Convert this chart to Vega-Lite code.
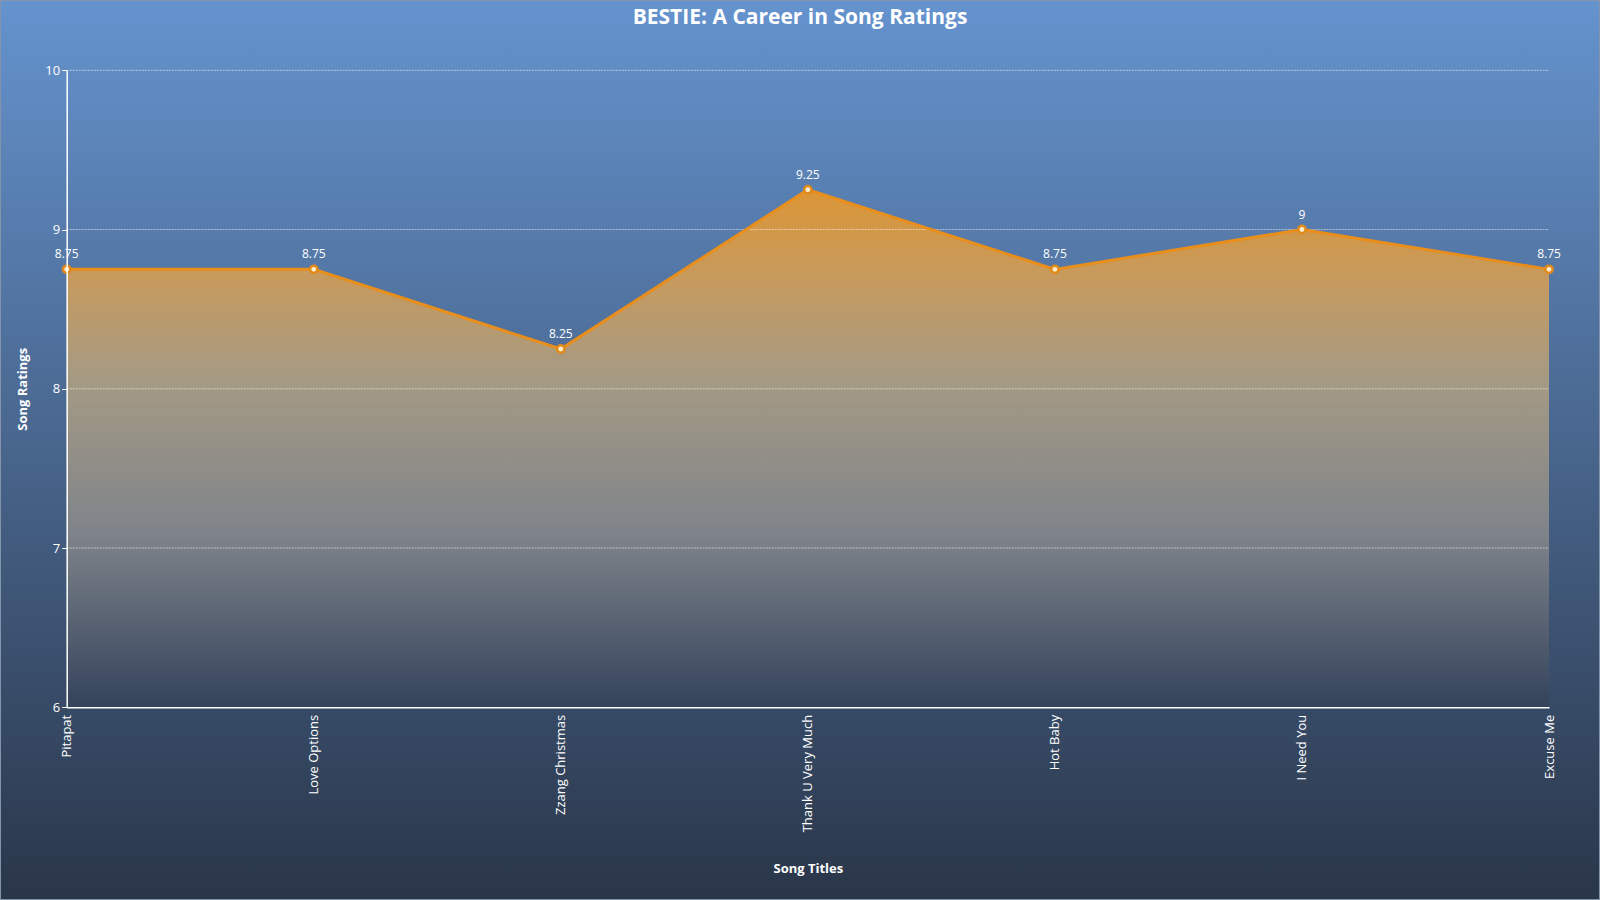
{
  "$schema": "https://vega.github.io/schema/vega-lite/v6.json",
  "autosize": {"type": "none"},
  "padding": 0,
  "width": 1600,
  "height": 900,
  "background": "#2a3649",
  "title": {
    "text": "BESTIE: A Career in Song Ratings",
    "font": "Open Sans",
    "fontSize": 21,
    "fontWeight": "bold",
    "color": "white",
    "anchor": "middle",
    "offset": -29
  },
  "data": {
    "values": [
      {"song": "Pitapat", "rating": 8.75},
      {"song": "Love Options", "rating": 8.75},
      {"song": "Zzang Christmas", "rating": 8.25},
      {"song": "Thank U Very Much", "rating": 9.25},
      {"song": "Hot Baby", "rating": 8.75},
      {"song": "I Need You", "rating": 9},
      {"song": "Excuse Me", "rating": 8.75}
    ]
  },
  "layer": [
    {
      "data": {"values": [{}]},
      "mark": {
        "type": "rect",
        "stroke": "#8194ab",
        "strokeWidth": 2,
        "fill": {
          "gradient": "linear",
          "x1": 0, "y1": 0, "x2": 0, "y2": 1,
          "stops": [
            {"offset": 0, "color": "#6593ce"},
            {"offset": 0.5, "color": "#48658c"},
            {"offset": 1, "color": "#2a3649"}
          ]
        }
      },
      "encoding": {}
    },
    {
      "mark": {
        "type": "area",
        "fill": {
          "gradient": "linear",
          "x1": 0, "y1": 0, "x2": 0, "y2": 1,
          "stops": [
            {"offset": 0, "color": "#db9636"},
            {"offset": 0.164, "color": "#c89a5c"},
            {"offset": 0.367, "color": "#a59a84"},
            {"offset": 0.67, "color": "#7e838a"},
            {"offset": 1, "color": "#34435b"}
          ]
        }
      },
      "encoding": {
        "x": {
          "field": "song",
          "type": "nominal",
          "sort": null,
          "scale": {
            "type": "point",
            "domain": ["Pitapat", "Love Options", "Zzang Christmas", "Thank U Very Much", "Hot Baby", "I Need You", "Excuse Me"],
            "range": [66.7, 1549],
            "padding": 0
          },
          "axis": {
            "title": "Song Titles",
            "zindex": 2,
            "offset": -192.7,
            "labelAngle": -90,
            "labelPadding": 7,
            "labelFontSize": 13,
            "labelFont": "Open Sans",
            "labelColor": "white",
            "ticks": false,
            "grid": false,
            "domainColor": "white",
            "domainWidth": 1.5,
            "titleFont": "Open Sans",
            "titleFontSize": 13,
            "titleFontWeight": "bold",
            "titleColor": "white",
            "titlePadding": 31
          }
        },
        "y": {
          "field": "rating",
          "type": "quantitative",
          "scale": {"domain": [6, 10], "range": [707.3, 70.3], "zero": false, "nice": false},
          "axis": {
            "title": "Song Ratings",
            "zindex": 2,
            "offset": -66.7,
            "values": [6, 7, 8, 9, 10],
            "format": "d",
            "grid": false,
            "labelFontSize": 13,
            "labelFont": "Open Sans",
            "labelColor": "white",
            "labelPadding": 2,
            "tickColor": "white",
            "tickSize": 5,
            "domainColor": "white",
            "domainWidth": 1.5,
            "titleFont": "Open Sans",
            "titleFontSize": 13,
            "titleFontWeight": "bold",
            "titleColor": "white",
            "titlePadding": 15
          }
        },
        "y2": {"datum": 6}
      }
    },
    {
      "data": {"values": [{"v": 7}, {"v": 8}, {"v": 9}, {"v": 10}]},
      "mark": {"type": "rule", "color": "white", "opacity": 0.55, "strokeWidth": 1, "strokeDash": [2, 1]},
      "encoding": {
        "x": {"datum": "Pitapat", "type": "nominal"},
        "x2": {"datum": "Excuse Me"},
        "y": {"field": "v", "type": "quantitative"}
      }
    },
    {
      "mark": {"type": "line", "color": "#e88e1d", "strokeWidth": 3},
      "encoding": {
        "x": {"field": "song", "type": "nominal", "sort": null},
        "y": {"field": "rating", "type": "quantitative"}
      }
    },
    {
      "mark": {"type": "point", "filled": true, "fill": "#fdeccc", "stroke": "#e08a1a", "strokeWidth": 2.5, "size": 55, "opacity": 1},
      "encoding": {
        "x": {"field": "song", "type": "nominal", "sort": null},
        "y": {"field": "rating", "type": "quantitative"}
      }
    },
    {
      "mark": {"type": "text", "color": "white", "font": "Open Sans", "fontSize": 12, "dy": -15},
      "encoding": {
        "x": {"field": "song", "type": "nominal", "sort": null},
        "y": {"field": "rating", "type": "quantitative"},
        "text": {"field": "rating", "type": "quantitative"}
      }
    }
  ]
}
